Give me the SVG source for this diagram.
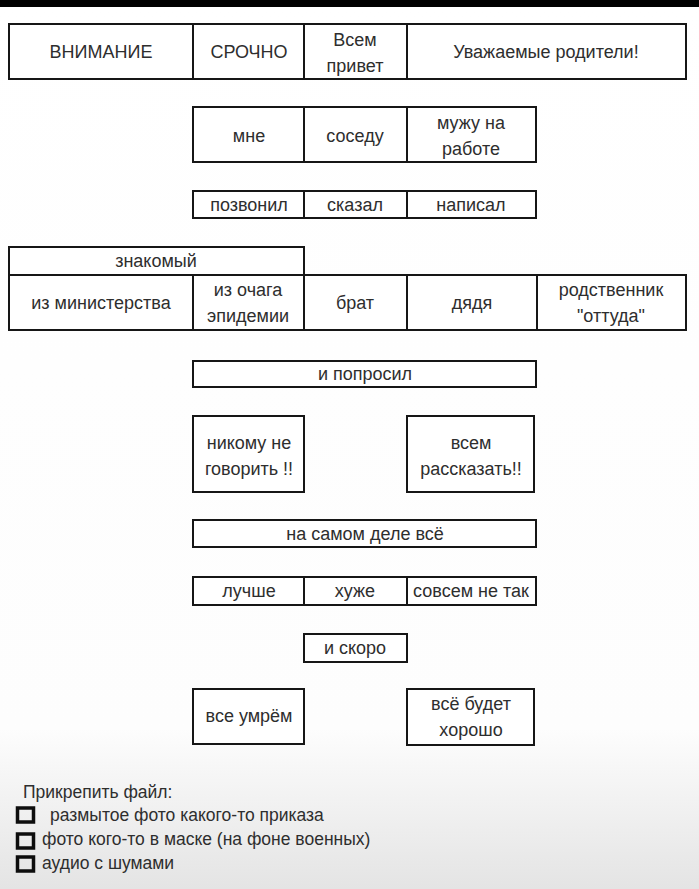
<svg xmlns="http://www.w3.org/2000/svg" width="699" height="889" viewBox="0 0 699 889">
<defs>
<linearGradient id="bg" x1="0" y1="0" x2="0" y2="1">
<stop offset="0" stop-color="#ffffff"/>
<stop offset="0.82" stop-color="#fdfdfd"/>
<stop offset="1" stop-color="#e4e4e4"/>
</linearGradient>
<style>
.b{fill:#fff;stroke:#161616;stroke-width:2}
.l{stroke:#161616;stroke-width:2}
text{font-family:"Liberation Sans",Arial,sans-serif;font-size:18px;fill:#2e2e2e;text-anchor:middle}
.s{font-size:17.5px;text-anchor:start}
.cb{fill:none;stroke:#0d0d0d;stroke-width:3.5}
</style>
</defs>
<rect width="699" height="889" fill="url(#bg)"/>
<rect width="699" height="7" fill="#000"/>

<g id="row1">
<rect class="b" x="9" y="24" width="677" height="55"/>
<line class="l" x1="193" y1="24" x2="193" y2="79"/>
<line class="l" x1="304" y1="24" x2="304" y2="79"/>
<line class="l" x1="407" y1="24" x2="407" y2="79"/>
<g id="n-vnimanie"><text x="101" y="58">ВНИМАНИЕ</text></g>
<g id="n-srochno"><text x="249" y="58">СРОЧНО</text></g>
<g id="n-vsem-privet"><text x="355" y="46">Всем</text><text x="355" y="72">привет</text></g>
<g id="n-uvazhaemye"><text x="546" y="58">Уважаемые родители!</text></g>
</g>

<g id="row2">
<rect class="b" x="193" y="107" width="343" height="55"/>
<line class="l" x1="304" y1="107" x2="304" y2="162"/>
<line class="l" x1="407" y1="107" x2="407" y2="162"/>
<g id="n-mne"><text x="249" y="142">мне</text></g>
<g id="n-sosedu"><text x="355" y="142">соседу</text></g>
<g id="n-muzhu"><text x="471" y="129">мужу на</text><text x="471" y="155">работе</text></g>
</g>

<g id="row3">
<rect class="b" x="193" y="191" width="343" height="27"/>
<line class="l" x1="304" y1="191" x2="304" y2="218"/>
<line class="l" x1="407" y1="191" x2="407" y2="218"/>
<g id="n-pozvonil"><text x="249" y="211">позвонил</text></g>
<g id="n-skazal"><text x="355" y="211">сказал</text></g>
<g id="n-napisal"><text x="471" y="211">написал</text></g>
</g>

<g id="row4">
<rect class="b" x="9" y="247" width="295" height="28"/>
<rect class="b" x="9" y="275" width="677" height="55"/>
<line class="l" x1="193" y1="275" x2="193" y2="330"/>
<line class="l" x1="304" y1="247" x2="304" y2="330"/>
<line class="l" x1="407" y1="275" x2="407" y2="330"/>
<line class="l" x1="537" y1="275" x2="537" y2="330"/>
<g id="n-znakomy"><text x="156" y="267">знакомый</text></g>
<g id="n-ministerstvo"><text x="101" y="309">из министерства</text></g>
<g id="n-ochag"><text x="248" y="296">из очага</text><text x="248" y="322">эпидемии</text></g>
<g id="n-brat"><text x="355" y="309">брат</text></g>
<g id="n-dyadya"><text x="472" y="309">дядя</text></g>
<g id="n-rodstvennik"><text x="611" y="296">родственник</text><text x="611" y="322">"оттуда"</text></g>
</g>

<g id="n-poprosil">
<rect class="b" x="193" y="361" width="343" height="26"/>
<text x="365" y="380">и попросил</text>
</g>

<g id="n-nikomu">
<rect class="b" x="193" y="416" width="111" height="76"/>
<text x="249" y="449">никому не</text>
<text x="249" y="475">говорить !!</text>
</g>
<g id="n-vsem-rasskazat">
<rect class="b" x="407" y="416" width="127" height="76"/>
<text x="471" y="449">всем</text>
<text x="471" y="475">рассказать!!</text>
</g>

<g id="n-na-samom-dele">
<rect class="b" x="193" y="520" width="343" height="27"/>
<text x="365" y="540">на самом деле всё</text>
</g>

<g id="row-luchshe">
<rect class="b" x="193" y="577" width="343" height="28"/>
<line class="l" x1="304" y1="577" x2="304" y2="605"/>
<line class="l" x1="407" y1="577" x2="407" y2="605"/>
<g id="n-luchshe"><text x="249" y="597">лучше</text></g>
<g id="n-huzhe"><text x="355" y="597">хуже</text></g>
<g id="n-sovsem"><text x="471" y="597">совсем не так</text></g>
</g>

<g id="n-i-skoro">
<rect class="b" x="304" y="634" width="103" height="28"/>
<text x="355" y="654">и скоро</text>
</g>

<g id="n-vse-umrem">
<rect class="b" x="193" y="689" width="111" height="55"/>
<text x="249" y="722">все умрём</text>
</g>
<g id="n-vse-budet">
<rect class="b" x="407" y="689" width="127" height="56"/>
<text x="471" y="710">всё будет</text>
<text x="471" y="736">хорошо</text>
</g>

<g id="attach">
<text class="s" x="23" y="798">Прикрепить файл:</text>
<rect class="cb" x="17.5" y="808" width="16" height="14"/>
<text class="s" x="50" y="821">размытое фото какого-то приказа</text>
<rect class="cb" x="17.5" y="834" width="16" height="14"/>
<text class="s" x="42" y="845">фото кого-то в маске (на фоне военных)</text>
<rect class="cb" x="17.5" y="857" width="16" height="14"/>
<text class="s" x="42" y="869">аудио с шумами</text>
</g>
</svg>
